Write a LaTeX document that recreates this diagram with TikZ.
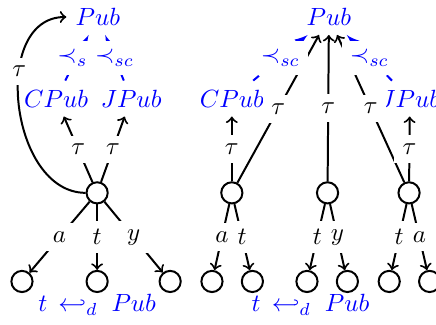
\documentclass[tikz,border=0pt]{standalone}
\usepackage{amsmath}
\usepackage{amssymb}

\begin{document}
\begin{tikzpicture}[->,thick]
    \tikzstyle{world}=[circle,draw,minimum size=8.5pt,inner sep=0pt]
    \tikzstyle{cls}=[text=blue]
    \tikzstyle{lbl}=[fill=white]
    \tikzstyle{sub}=[-latex,blue,dashed]

    \useasboundingbox (0,0) rectangle (6.15,4.58);

    % Draw the left tree
    \node[cls] (PubL) at (1.38,4.34) {$Pub$};
    \node[cls] (CPubL) at (0.79,3.19) {$CPub$};
    \node[cls] (JPubL) at (1.85,3.19) {$JPub$};
    \node[world] (rootL) at (1.37,1.86) {};
    \foreach \name / \x in {1/0.31,2/1.37,3/2.40}
        \node[world] (L-\name) at (\x,0.61) {};
    \node[cls] (relL) at (1.37,0.28) {$t\,\hookleftarrow_d\;Pub$};

    % Connect the root of the left tree
    \foreach \dest / \lab in {1/a,2/t,3/y}
        \path (rootL) edge node[lbl] {$\lab$} (L-\dest);
    \path (rootL) edge node[lbl] {$\tau$} (CPubL)
                  edge node[lbl] {$\tau$} (JPubL);
    \path (rootL) edge[out=180,in=180,looseness=1.1] node[lbl,pos=0.63] {$\tau$} (PubL);
    \path[sub] (CPubL) edge node[lbl] {$\prec_{sc}$} (PubL);
    \path[sub] (JPubL) edge node[lbl] {$\prec_{sc}$} (PubL);

    % Draw the right tree
    \node[cls] (PubR) at (4.64,4.34) {$Pub$};
    \node[cls] (CPubR) at (3.27,3.19) {$CPub$};
    \node[cls] (JPubR) at (5.78,3.19) {$JPub$};
    \foreach \name / \x in {1/3.27,2/4.62,3/5.77}
        \node[world] (W-\name) at (\x,1.86) {};
    \foreach \name / \x in {1/2.99,2/3.56,3/4.33,4/4.90,5/5.49,6/6.06}
        \node[world] (R-\name) at (\x,0.61) {};
    \node[cls] (relR) at (4.38,0.28) {$t\,\hookleftarrow_d\;Pub$};

    % Connect every middle node with its leaves and with Pub
    \foreach \source / \dest / \lab in {1/1/a,1/2/t,2/3/t,2/4/y,3/5/t,3/6/a}
        \path (W-\source) edge node[lbl] {$\lab$} (R-\dest);
    \foreach \source in {1,2,3}
        \path (W-\source) edge node[lbl] {$\tau$} (PubR);
    \path (W-1) edge node[lbl] {$\tau$} (CPubR);
    \path (W-3) edge node[lbl] {$\tau$} (JPubR);
    \path[sub] (CPubR) edge node[lbl] {$\prec_{sc}$} (PubR);
    \path[sub] (JPubR) edge node[lbl] {$\prec_{sc}$} (PubR);
\end{tikzpicture}
\end{document}
